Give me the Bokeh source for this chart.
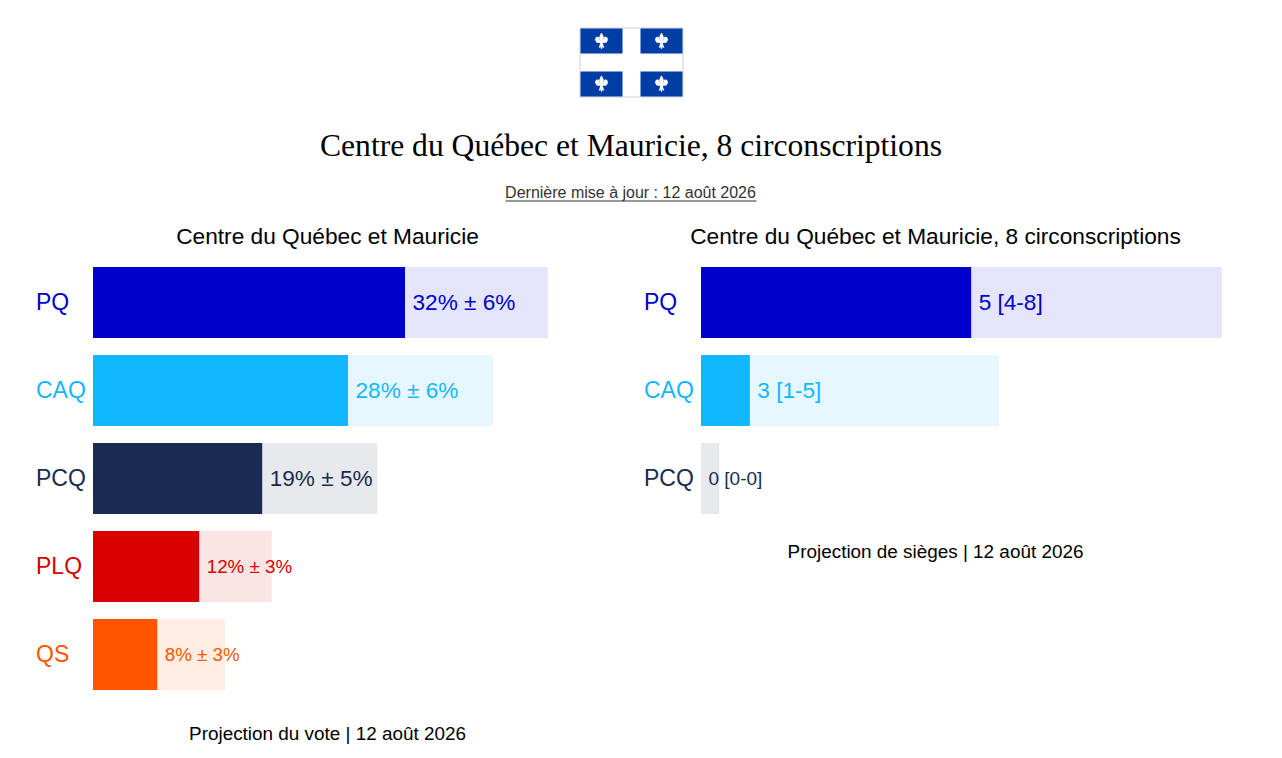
from bokeh.plotting import figure
from bokeh.models import Range1d
from bokeh.core.properties import value
from bokeh.embed import file_html
from bokeh.resources import INLINE

# ---- data ----
parties = ["PQ", "CAQ", "PCQ", "PLQ", "QS"]
colors = ["#0000CD", "#12B8FF", "#1A2B52", "#D80000", "#FF5500"]
vote_low = [26.0, 21.25, 14.1, 8.85, 5.35]
vote_high = [37.9, 33.35, 23.7, 14.9, 11.0]
vote_labels = ["32% ± 6%", "28% ± 6%", "19% ± 5%", "12% ± 3%", "8% ± 3%"]
seat_parties = ["PQ", "CAQ", "PCQ"]
seat_low = [4.15, 0.75, 0.0]
seat_high = [8.0, 4.58, 0.28]
seat_labels = ["5 [4-8]", "3 [1-5]", "0 [0-0]"]
main_title = "Centre du Québec et Mauricie, 8 circonscriptions"
updated = "Dernière mise à jour : 12 août 2026"
vote_title = "Centre du Québec et Mauricie"
seat_title = "Centre du Québec et Mauricie, 8 circonscriptions"
vote_caption = "Projection du vote | 12 août 2026"
seat_caption = "Projection de sièges | 12 août 2026"

# ---- layout ----
W, H = 1266, 750
SANS = value("Liberation Sans")
ROW0, ROW_STEP, BAR_H = 302.0, 88.0, 71 / 88
VOTE_X0, VOTE_PX = 92.5, 12.0
SEAT_X0, SEAT_PX = 700.5, 65.1


def page_range(x0, px):
    return Range1d((0 - x0) / px, (W - x0) / px)


p = figure(width=W, height=H, output_backend="svg", toolbar_location=None,
           x_range=Range1d(0, W), y_range=Range1d(H, 0),
           min_border=0, outline_line_color=None, background_fill_color="white",
           border_fill_color="white")
p.xaxis.visible = False
p.yaxis.visible = False
p.grid.visible = False
p.extra_x_ranges = {"vote": page_range(VOTE_X0, VOTE_PX), "seats": page_range(SEAT_X0, SEAT_PX)}
p.extra_y_ranges = {"rows": Range1d((H - ROW0) / ROW_STEP, (0 - ROW0) / ROW_STEP)}


def panel(names, low, high, labels, sizes, xname, name_x):
    n = len(names)
    rows = list(range(n))
    cols = colors[:n]
    p.hbar(y=rows, left=[0] * n, right=high, height=BAR_H, fill_color=cols, fill_alpha=0.105,
           line_color=None, x_range_name=xname, y_range_name="rows")
    p.hbar(y=rows, left=[0] * n, right=low, height=BAR_H, fill_color=cols,
           line_color=None, x_range_name=xname, y_range_name="rows")
    p.text(x=low, y=rows, text=labels, text_color=cols, text_font=SANS,
           text_font_size=[f"{s}px" for s in sizes], text_baseline="middle", x_offset=7.5, y_offset=-0.5,
           x_range_name=xname, y_range_name="rows")
    p.text(x=[name_x] * n, y=rows, text=names, text_color=cols, text_font=SANS,
           text_font_size="23px", text_baseline="middle", y_offset=-0.5, y_range_name="rows")


panel(parties, vote_low, vote_high, vote_labels, [22.6, 22.6, 22.6, 18.8, 18.8], "vote", 35.5)
panel(seat_parties, seat_low, seat_high, seat_labels, [22.6, 22.6, 19], "seats", 643.5)

# ---- flag ----
p.quad(left=[579.5], right=[682.5], top=[27.5], bottom=[96.5], fill_color="white", line_color="#d0d0d0", line_width=1)
cx = [601, 661, 601, 661]
cy = [40.5, 40.5, 83.3, 83.3]
p.rect(x=[601, 661, 601, 661], y=[40.5, 40.5, 83.5, 83.5], width=[42, 42, 42, 42], height=[25, 25, 25, 25],
       fill_color="#003DA5", line_color=None)
fx = [0, 1.1, 2.1, 1.0, 1.0, 2.6, 3.2, 5.4, 6.2, 5.0, 3.4, 2.2, 1.0, 1.6, 2.4, 1.0, 0,
      -1.0, -2.4, -1.6, -1.0, -2.2, -3.4, -5.0, -6.2, -5.4, -3.2, -2.6, -1.0, -1.0, -2.1, -1.1]
fy = [-8, -6, -3, 0, 0.6, -2, -4, -3.6, -1.4, 1.2, 1.6, 1.4, 2.4, 4.4, 6.6, 5.4, 8,
      5.4, 6.6, 4.4, 2.4, 1.4, 1.6, 1.2, -1.4, -3.6, -4, -2, 0.6, 0, -3, -6]
p.patches(xs=[[c + v for v in fx] for c in cx], ys=[[c + v for v in fy] for c in cy],
          fill_color="white", line_color="white", line_width=0.7)

# ---- titles ----
p.text(x=[630.5], y=[144.5], text=[main_title], text_font=value("Liberation Serif"), text_font_size="31.6px",
       text_color="black", text_align="center", text_baseline="middle")
p.text(x=[630], y=[191.5], text=[updated], text_font=SANS, text_font_size="16px",
       text_color="#333333", text_align="center", text_baseline="middle")
p.segment(x0=[505], x1=[756], y0=[200.5], y1=[200.5], line_color="#333333", line_width=1)
p.text(x=[327, 935], y=[235, 235], text=[vote_title, seat_title], text_font=SANS, text_font_size="22.7px",
       text_color="black", text_align="center", text_baseline="middle")
p.text(x=[327, 935], y=[732.5, 550.5], text=[vote_caption, seat_caption], text_font=SANS, text_font_size="18.9px",
       text_color="black", text_align="center", text_baseline="middle")

open("out.html", "w").write(file_html(p, INLINE))
